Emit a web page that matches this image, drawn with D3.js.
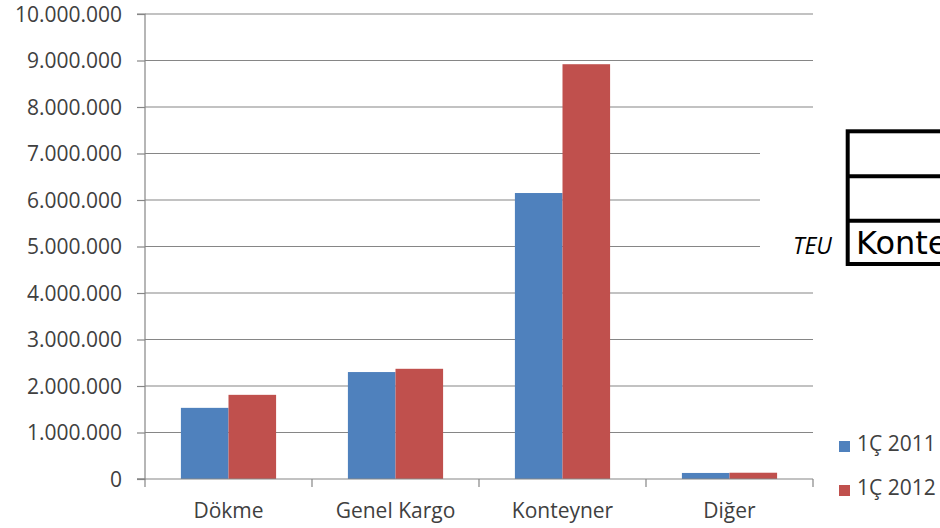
<!DOCTYPE html>
<html><head><meta charset="utf-8">
<script src="https://cdn.jsdelivr.net/npm/d3@7"></script>
<style>body{margin:0;background:#fff}svg{display:block}</style>
</head><body>
<script>
const categories = ["Dökme", "Genel Kargo", "Konteyner", "Diğer"];
const seriesNames = ["1Ç 2011", "1Ç 2012"];
const values2011 = [1530000, 2300000, 6150000, 130000];
const values2012 = [1810000, 2370000, 8920000, 135000];
const yTicks = [0,1000000,2000000,3000000,4000000,5000000,6000000,7000000,8000000,9000000,10000000];
const colors = ["#4F81BD", "#C0504D"];

const W = 940, H = 528;
const svg = d3.select("body").append("svg").attr("width", W).attr("height", H);
const pLeft = 145, pRight = 813, pTop = 14, pBottom = 479;
const y = d3.scaleLinear().domain([0, 10000000]).range([pBottom, pTop]);
const x = d3.scaleBand().domain(categories).range([pLeft, pRight]).paddingInner(0.43).paddingOuter(0.215);
const xs = d3.scaleBand().domain(seriesNames).range([0, x.bandwidth()]);
const fmt = v => d3.format(",")(v).replace(/,/g, ".");
const font = "'Open Sans', sans-serif";
const grey = "#868686";

// gridlines
svg.append("g").selectAll("line").data(yTicks.filter(d => d > 0)).join("line")
  .attr("x1", pLeft).attr("x2", pRight).attr("y1", d => y(d)).attr("y2", d => y(d))
  .attr("stroke", grey).attr("stroke-width", 1.2);

// y axis
const ya = svg.append("g").attr("transform", `translate(${pLeft},0)`)
  .call(d3.axisLeft(y).tickValues(yTicks).tickFormat(fmt).tickSize(8).tickPadding(15));
ya.select(".domain").attr("stroke", grey).attr("stroke-width", 1.2).attr("d", `M-8,${pTop}H0V${pBottom}H-8`);
ya.selectAll(".tick line").attr("stroke", grey).attr("stroke-width", 1.2);
ya.selectAll("text").attr("font-family", font).attr("font-size", 21).attr("fill", "#404040").attr("dy", "0.34em");

// bars
const data = categories.map((c, i) => ({c, vals: [values2011[i], values2012[i]]}));
const g = svg.append("g");
data.forEach(d => {
  d.vals.forEach((v, j) => {
    g.append("rect")
      .attr("x", x(d.c) + xs(seriesNames[j]))
      .attr("width", xs.bandwidth())
      .attr("y", y(v)).attr("height", y(0) - y(v))
      .attr("fill", colors[j]);
  });
});

// x axis
const xa = svg.append("g").attr("transform", `translate(0,${pBottom})`);
xa.append("line").attr("x1", pLeft - 8).attr("x2", pRight).attr("y1", 0).attr("y2", 0).attr("stroke", grey).attr("stroke-width", 1.2);
const bounds = [pLeft].concat(categories.map(c => x(c) + x.bandwidth() + x.step() * x.paddingInner() / 2));
xa.selectAll(".tk").data(bounds).join("line").attr("class", "tk")
  .attr("x1", d => d).attr("x2", d => d).attr("y1", 0).attr("y2", 8)
  .attr("stroke", grey).attr("stroke-width", 1.2);
xa.selectAll("text").data(categories).join("text")
  .attr("x", d => x(d) + x.bandwidth() / 2).attr("y", 39)
  .attr("text-anchor", "middle").attr("font-family", font).attr("font-size", 21).attr("fill", "#404040")
  .text(d => d);

// overlaid table fragment
svg.append("rect").attr("x", 760).attr("y", 122).attr("width", 180).attr("height", 152).attr("fill", "#fff");
const tb = svg.append("g").attr("fill", "none").attr("stroke", "#000").attr("stroke-width", 4);
tb.append("rect").attr("x", 847.7).attr("y", 131.3).attr("width", 110).attr("height", 132.7);
tb.append("line").attr("x1", 847.7).attr("x2", 945).attr("y1", 176.3).attr("y2", 176.3);
tb.append("line").attr("x1", 847.7).attr("x2", 945).attr("y1", 220.7).attr("y2", 220.7);
svg.append("text").attr("x", 793).attr("y", 254).attr("font-family", font).attr("font-style", "italic")
  .attr("font-size", 23).attr("fill", "#000").text("TEU");
svg.append("text").attr("x", 856).attr("y", 254).attr("font-family", "'DejaVu Sans', sans-serif")
  .attr("font-size", 32).attr("fill", "#000").text("Konteyner");

// legend
const lg = svg.append("g");
seriesNames.forEach((s, i) => {
  const yy = 441 + i * 44;
  lg.append("rect").attr("x", 839).attr("y", yy).attr("width", 11).attr("height", 11).attr("fill", colors[i]);
  lg.append("text").attr("x", 857).attr("y", yy + 10).attr("font-family", font).attr("font-size", 21)
    .attr("fill", "#404040").text(s);
});
</script>
</body></html>
